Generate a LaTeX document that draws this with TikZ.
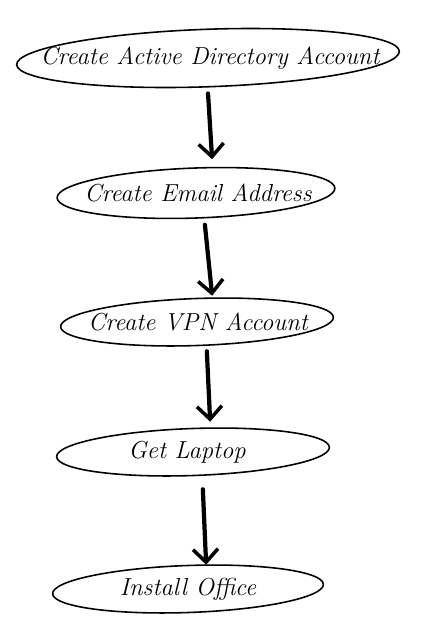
\documentclass[tikz,border=0pt]{standalone}
\usepackage{tikz}
\usetikzlibrary{shapes.geometric, arrows.meta, calc}

\tikzset{
  stepoval/.style={draw, ellipse, line width=0.9pt, rotate=2, inner sep=0pt,
    minimum height=0.94cm},
  steptext/.style={inner sep=0pt, font=\fontsize{14}{16}\selectfont\itshape},
  flow/.style={line width=2.4pt, line cap=round,
    -{Straight Barb[length=2.6mm, width=5mm, line width=2pt]}}
}

\begin{document}
\begin{tikzpicture}[x=0.02cm, y=-0.02cm]
\useasboundingbox (0,0) rectangle (441,643);

% steps
\node[stepoval, minimum width=7.66cm, minimum height=1.15cm] (ad) at (208,58) {};
\node[stepoval, minimum width=5.56cm, minimum height=1.0cm] (email) at (196,193) {};
\node[stepoval, minimum width=5.46cm] (vpn) at (197,322) {};
\node[stepoval, minimum width=5.46cm] (laptop) at (193,452) {};
\node[stepoval, minimum width=5.42cm] (office) at (188,589) {};

% labels
\node[steptext] (adtext) at ($(ad)+(2,0)$) {Create Active Directory Account};
\node[steptext] (emailtext) at ($(email)+(2,0)$) {Create Email Address};
\node[steptext] (vpntext) at ($(vpn)+(1,0)$) {Create VPN Account};
\node[steptext] (laptoptext) at ($(laptop)+(-6,0)$) {Get Laptop};
\node[steptext] (officetext) at (office) {Install Office};

% arrows
\draw[flow] ($(ad.south)+(-1,6)$) -- ($(email.north)+(17,-8)$);
\draw[flow] ($(email.south)+(8,6)$) -- ($(vpn.north)+(16,-2)$);
\draw[flow] ($(vpn.south)+(9,5)$) -- ($(laptop.north)+(18,-6)$);
\draw[flow] ($(laptop.south)+(9,13)$) -- ($(office.north)+(19,0)$);
\end{tikzpicture}
\end{document}
